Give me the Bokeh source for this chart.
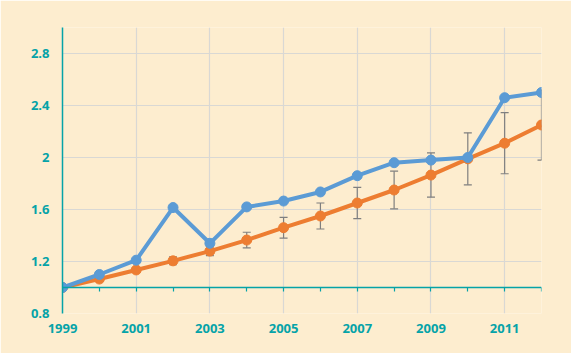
from bokeh.plotting import figure
from bokeh.models import ColumnDataSource, Whisker, LinearAxis, FixedTicker, Range1d
from bokeh.embed import file_html
from bokeh.resources import INLINE

years = list(range(1999, 2013))
blue = [1.0, 1.10, 1.21, 1.615, 1.34, 1.62, 1.665, 1.735, 1.86, 1.96, 1.98, 2.00, 2.46, 2.50]
orange = [1.0, 1.065, 1.135, 1.205, 1.28, 1.365, 1.46, 1.55, 1.65, 1.75, 1.865, 1.99, 2.11, 2.25]
err = [0.0, 0.01, 0.015, 0.03, 0.035, 0.06, 0.08, 0.10, 0.12, 0.145, 0.17, 0.20, 0.235, 0.27]
y_ticks = [0.8, 1.2, 1.6, 2.0, 2.4, 2.8]
y_labels = ["0.8", "1.2", "1.6", "2", "2.4", "2.8"]
x_ticks = [1999, 2001, 2003, 2005, 2007, 2009, 2011]

BG = "#FDEDCF"
TEAL = "#05A3A8"
GRID = "#D9D8D4"
BLUE = "#5B9BD5"
ORANGE = "#ED7D31"
ERR = "#7F7F7F"
FONT = "Open Sans"

p = figure(width=571, height=353, output_backend="svg", toolbar_location=None,
           x_range=Range1d(1999, 2012), y_range=Range1d(0.8, 3.0),
           min_border_left=62, min_border_right=30, min_border_top=27, min_border_bottom=40)
p.background_fill_color = BG
p.border_fill_color = BG
p.outline_line_color = None

# y axis
p.yaxis.ticker = FixedTicker(ticks=y_ticks)
p.yaxis.major_label_overrides = {t: l for t, l in zip(y_ticks, y_labels)}
p.yaxis.axis_line_color = TEAL
p.yaxis.axis_line_width = 1.5
p.yaxis.major_tick_line_color = None
p.yaxis.minor_tick_line_color = None
p.yaxis.major_tick_out = 0
p.yaxis.major_label_standoff = 13
p.yaxis.major_label_text_color = TEAL
p.yaxis.major_label_text_font = FONT
p.yaxis.major_label_text_font_style = "bold"
p.yaxis.major_label_text_font_size = "13px"

# x axis (labels only)
p.xaxis.ticker = FixedTicker(ticks=x_ticks)
p.xaxis.axis_line_color = None
p.xaxis.major_tick_line_color = None
p.xaxis.minor_tick_line_color = None
p.xaxis.major_tick_out = 0
p.xaxis.major_label_standoff = 10
p.xaxis.major_label_text_color = TEAL
p.xaxis.major_label_text_font = FONT
p.xaxis.major_label_text_font_style = "bold"
p.xaxis.major_label_text_font_size = "13px"

# grid
p.xgrid.ticker = FixedTicker(ticks=x_ticks)
p.ygrid.ticker = FixedTicker(ticks=y_ticks)
p.xgrid.grid_line_color = GRID
p.ygrid.grid_line_color = GRID
p.xgrid.grid_line_width = 1.2
p.ygrid.grid_line_width = 1.2

# x axis line at y = 1.0 with ticks
ax = LinearAxis(fixed_location=1.0, ticker=FixedTicker(ticks=years))
ax.axis_line_color = TEAL
ax.axis_line_width = 1.5
ax.major_tick_line_color = TEAL
ax.major_tick_line_width = 1.2
ax.major_tick_out = 4
ax.major_tick_in = 0
ax.minor_tick_line_color = None
ax.major_label_text_font_size = "0px"
ax.major_label_text_alpha = 0
p.add_layout(ax, "below")

src = ColumnDataSource(dict(x=years, blue=blue, orange=orange,
                            upper=[o + e for o, e in zip(orange, err)],
                            lower=[o - e for o, e in zip(orange, err)]))

w = Whisker(source=src, base="x", upper="upper", lower="lower",
            line_color=ERR, line_width=1.2)
w.upper_head.size = 8
w.lower_head.size = 8
w.upper_head.line_color = ERR
w.lower_head.line_color = ERR
w.upper_head.line_width = 1.2
w.lower_head.line_width = 1.2
p.add_layout(w)

p.line("x", "orange", source=src, line_color=ORANGE, line_width=4)
p.scatter("x", "orange", source=src, size=10, fill_color=ORANGE, line_color=ORANGE)
p.line("x", "blue", source=src, line_color=BLUE, line_width=4)
p.scatter("x", "blue", source=src, size=10, fill_color=BLUE, line_color=BLUE)

open("out.html", "w").write(file_html(p, INLINE))
